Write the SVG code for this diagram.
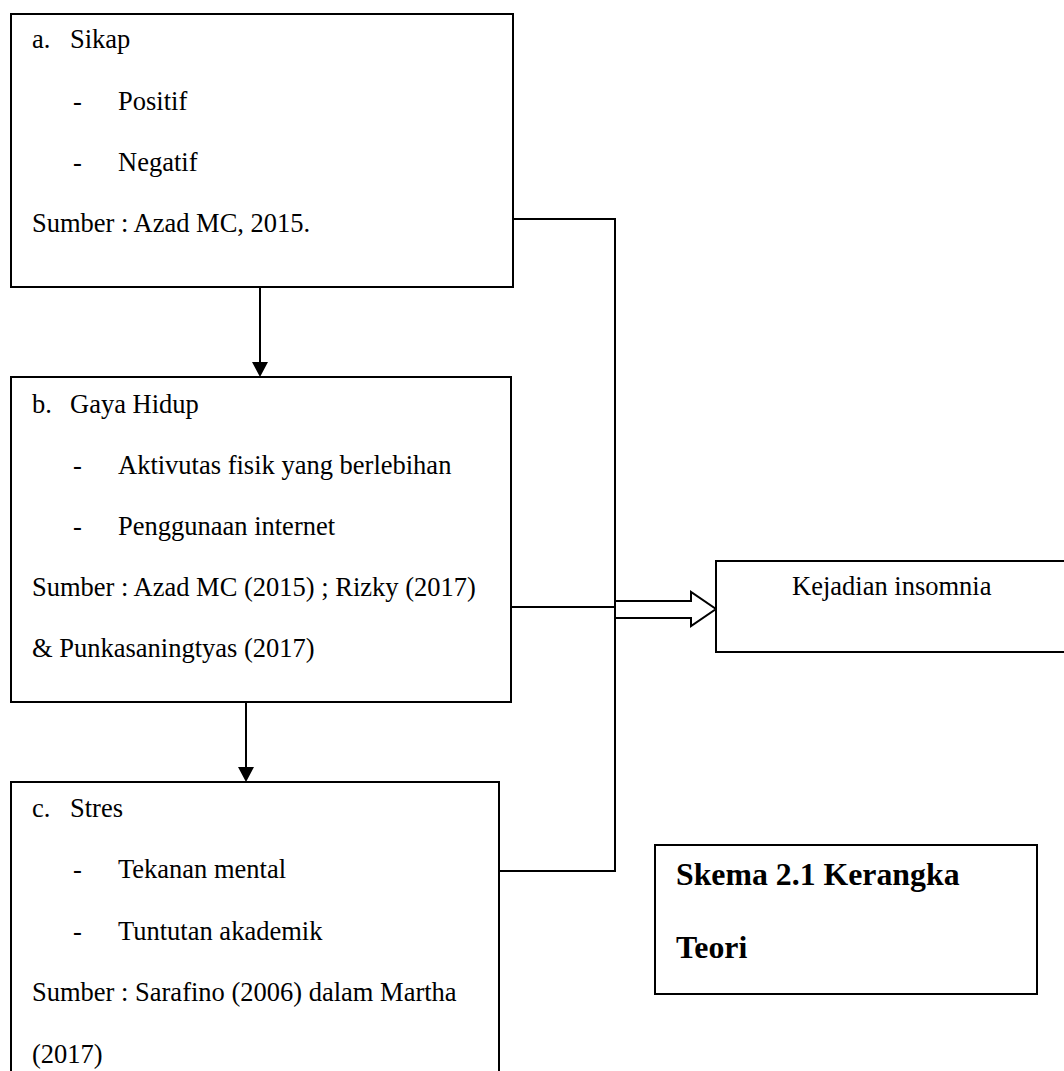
<svg xmlns="http://www.w3.org/2000/svg" width="1064" height="1071" viewBox="0 0 1064 1071">
  <style>
    .box { fill: #ffffff; stroke: #000000; stroke-width: 2; }
    .ln { fill: none; stroke: #000000; stroke-width: 2; }
    .head { fill: #000000; stroke: none; }
    text { font-family: "Liberation Serif", "Times New Roman", serif; font-size: 26.5px; fill: #000000; }
    .bold { font-weight: bold; font-size: 31.8px; }
  </style>
  <rect width="1064" height="1071" fill="#ffffff"/>

  <g id="connectors">
    <line class="ln" x1="260" y1="287" x2="260" y2="363"/>
    <polygon class="head" points="252,362 268,362 260,377"/>
    <line class="ln" x1="246" y1="690" x2="246" y2="768"/>
    <polygon class="head" points="238,767 254,767 246,782"/>
    <polyline class="ln" points="513,219 615,219 615,871 499,871"/>
    <line class="ln" x1="511" y1="607" x2="615" y2="607"/>
    <polygon class="box" points="615,601 691,601 691,592 716,609 691,626 691,618 615,618"/>
  </g>

  <g id="node-a">
    <rect class="box" x="11" y="14" width="502" height="273"/>
    <text x="32" y="48">a.</text>
    <text x="70" y="48">Sikap</text>
    <text x="73" y="110">-</text>
    <text x="118" y="110">Positif</text>
    <text x="73" y="171">-</text>
    <text x="118" y="171">Negatif</text>
    <text x="32" y="232">Sumber : Azad MC, 2015.</text>
  </g>

  <g id="node-b">
    <rect class="box" x="11" y="377" width="500" height="325"/>
    <text x="32" y="413">b.</text>
    <text x="70" y="413">Gaya Hidup</text>
    <text x="73" y="474">-</text>
    <text x="118" y="474">Aktivutas fisik yang berlebihan</text>
    <text x="73" y="535">-</text>
    <text x="118" y="535">Penggunaan internet</text>
    <text x="32" y="596">Sumber : Azad MC (2015) ; Rizky (2017)</text>
    <text x="32" y="657">&amp; Punkasaningtyas (2017)</text>
  </g>

  <g id="node-c">
    <rect class="box" x="11" y="782" width="488" height="300"/>
    <text x="32" y="817">c.</text>
    <text x="70" y="817">Stres</text>
    <text x="73" y="878">-</text>
    <text x="118" y="878">Tekanan mental</text>
    <text x="73" y="940">-</text>
    <text x="118" y="940">Tuntutan akademik</text>
    <text x="32" y="1001">Sumber : Sarafino (2006) dalam Martha</text>
    <text x="32" y="1063">(2017)</text>
  </g>

  <g id="node-kejadian">
    <rect class="box" x="716" y="561" width="360" height="91"/>
    <text x="792" y="595">Kejadian insomnia</text>
  </g>

  <g id="node-skema">
    <rect class="box" x="655" y="845" width="382" height="149"/>
    <text class="bold" x="676" y="885">Skema 2.1 Kerangka</text>
    <text class="bold" x="676" y="958">Teori</text>
  </g>
</svg>
